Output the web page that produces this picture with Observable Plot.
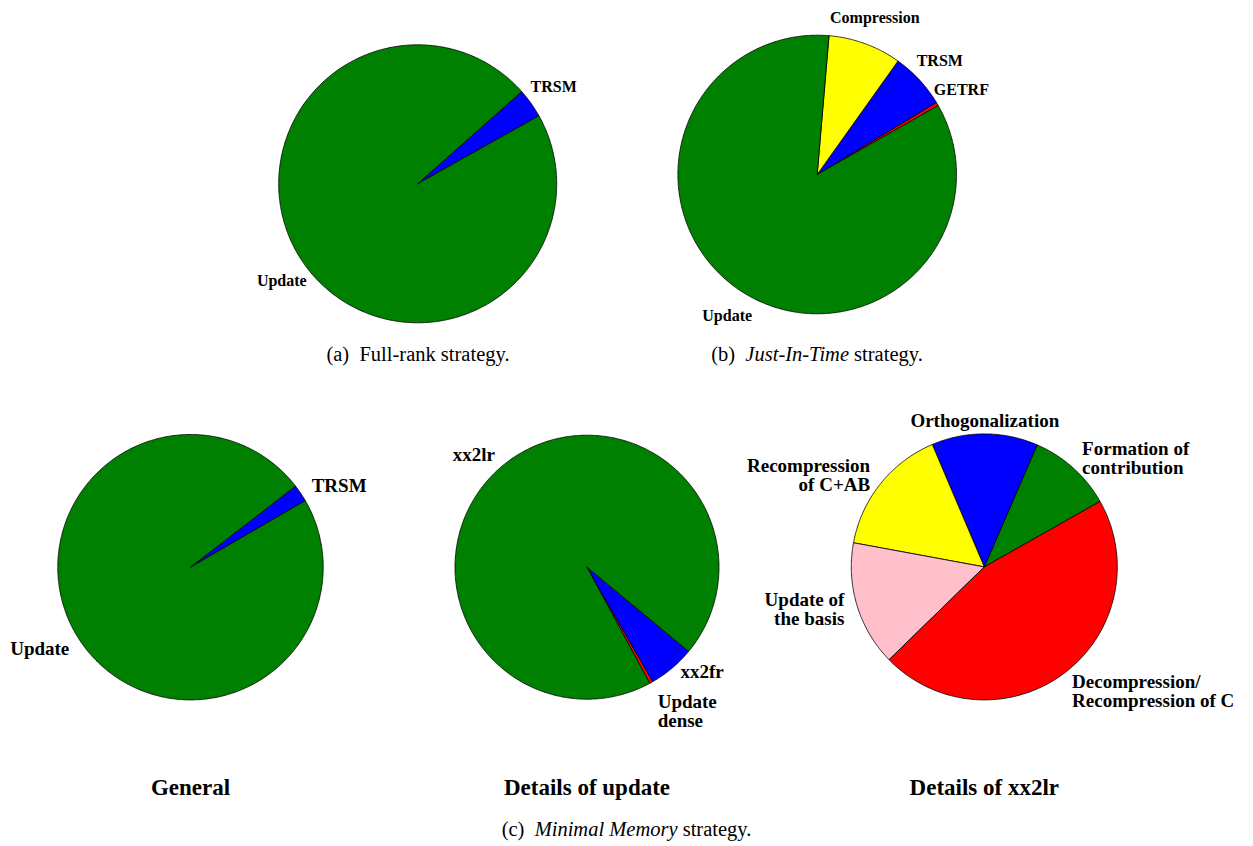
<!DOCTYPE html>
<html><head><meta charset="utf-8">
<script src="https://cdn.jsdelivr.net/npm/d3@7"></script>
<script src="https://cdn.jsdelivr.net/npm/@observablehq/plot@0.6"></script>
<style>
body{margin:0;background:#fff;}
#fig{position:relative;width:1253px;height:846px;overflow:hidden;}
.cap{position:absolute;transform:translate(-50%,-50%);font-family:"Liberation Serif",serif;font-size:20.5px;white-space:nowrap;color:#000;}
</style></head><body><div id="fig"></div>
<script>
// ---- data (percent of time) ----
const fullRankLabels = ["TRSM", "Update"];
const fullRankValues = [3.4, 96.6];

const jitLabels = ["GETRF", "TRSM", "Compression", "Update"];
const jitValues = [0.4, 6.5, 8.5, 84.6];

const generalLabels = ["TRSM", "Update"];
const generalValues = [2.1, 97.9];

const updateLabels = ["Update\ndense", "xx2fr", "xx2lr"];
const updateValues = [0.4, 5.7, 93.9];

const xx2lrLabels = ["Formation of\ncontribution", "Orthogonalization", "Recompression\nof C+AB", "Update of\nthe basis", "Decompression/\nRecompression of C"];
const xx2lrValues = [10.3, 12.9, 15.7, 15.2, 45.9];

const subTitles = ["General", "Details of update", "Details of xx2lr"];

// colour of each category
const colorDomain = ["TRSM", "Update", "GETRF", "Compression", "Update\ndense", "xx2fr", "xx2lr",
  "Formation of\ncontribution", "Orthogonalization", "Recompression\nof C+AB", "Update of\nthe basis", "Decompression/\nRecompression of C"];
const colorRange = ["#0000ff", "#008000", "#ff0000", "#ffff00", "#ff0000", "#0000ff", "#008000",
  "#008000", "#0000ff", "#ffff00", "#ffc0cb", "#ff0000"];

// ---- layout ----
const W = 1253, H = 846;
const pies = [
  {key: "a", labels: fullRankLabels, values: fullRankValues, cx: 417.2, cy: 183.3, r: 139, start: 29.3, mode: "center", fs: 16},
  {key: "b", labels: jitLabels, values: jitValues, cx: 816.7, cy: 174, r: 139.3, start: 29.7, mode: "center", fs: 16},
  {key: "c1", labels: generalLabels, values: generalValues, cx: 190, cy: 566.7, r: 132.7, start: 30.1, mode: "side", fs: 19},
  {key: "c2", labels: updateLabels, values: updateValues, cx: 586.5, cy: 566.7, r: 132, start: -61.6, mode: "side", fs: 19},
  {key: "c3", labels: xx2lrLabels, values: xx2lrValues, cx: 983.8, cy: 566.4, r: 133, start: 29.5, mode: "side", fs: 19}
];
const subX = [190, 586.5, 983.8];

const rad = d => d * Math.PI / 180;
const slices = [], labelData = [];
pies.forEach(p => {
  const total = d3.sum(p.values);
  let a = p.start;
  p.values.forEach((v, i) => {
    const span = v / total * 360;
    const a0 = a; a += span;
    const id = p.key + "-" + i, cat = p.labels[i];
    slices.push({id, cat, x: p.cx, y: p.cy});
    const n = Math.max(2, Math.ceil(span / 0.5));
    for (let k = 0; k <= n; k++) {
      const t = rad(a0 + span * k / n);
      slices.push({id, cat, x: p.cx + p.r * Math.cos(t), y: p.cy - p.r * Math.sin(t)});
    }
    slices.push({id, cat, x: p.cx, y: p.cy});
    const m = rad(a0 + span / 2), c = Math.cos(m), s = Math.sin(m);
    if (p.mode === "center") {
      labelData.push({text: cat, x: p.cx + 1.2 * p.r * c, y: p.cy - 1.2 * p.r * s, ta: "middle", la: "middle", fs: p.fs, dy: 0});
    } else {
      const low = s < -0.75;
      labelData.push({text: cat, x: p.cx + 1.1 * p.r * c, y: p.cy - 1.1 * p.r * s,
        ta: c > 0.05 ? "start" : c < -0.05 ? "end" : "middle",
        la: low ? "top" : "middle", fs: p.fs,
        dy: low ? Math.round(Math.min(0, -9.5 + 126 * (-s - 0.8))) : 0});
    }
  });
});

const groups = d3.groups(labelData, d => `${d.ta}|${d.la}|${d.fs}|${d.dy}`);
const textMarks = groups.map(([k, arr]) => Plot.text(arr, {
  x: "x", y: "y", text: "text",
  textAnchor: arr[0].ta, lineAnchor: arr[0].la, dy: arr[0].dy,
  fontSize: arr[0].fs, fontFamily: "Liberation Serif", fontWeight: "bold", fill: "black", lineHeight: 1.02
}));

const chart = Plot.plot({
  width: W, height: H, margin: 0,
  x: {domain: [0, W], range: [0, W], axis: null},
  y: {domain: [0, H], range: [0, H], axis: null},
  color: {domain: colorDomain, range: colorRange},
  marks: [
    Plot.line(slices, {x: "x", y: "y", z: "id", fill: "cat", stroke: "black", strokeWidth: 0.8, strokeLinejoin: "round", curve: "linear"}),
    ...textMarks,
    Plot.text(subTitles, {x: (d, i) => subX[i], y: () => 787, text: d => d, fontSize: 23, fontFamily: "Liberation Serif", fontWeight: "bold", fill: "black"})
  ]
});
chart.style.position = "absolute";
chart.style.left = "0px";
chart.style.top = "0px";
const fig = document.getElementById("fig");
fig.appendChild(chart);

const caps = [
  {html: "(a)&nbsp; Full-rank strategy.", x: 418, y: 354},
  {html: "(b)&nbsp; <i>Just-In-Time</i> strategy.", x: 817, y: 354},
  {html: "(c)&nbsp; <i>Minimal Memory</i> strategy.", x: 626.5, y: 829}
];
caps.forEach(c => {
  const d = document.createElement("div");
  d.className = "cap";
  d.style.left = c.x + "px";
  d.style.top = c.y + "px";
  d.innerHTML = c.html;
  fig.appendChild(d);
});
</script>
</body></html>
